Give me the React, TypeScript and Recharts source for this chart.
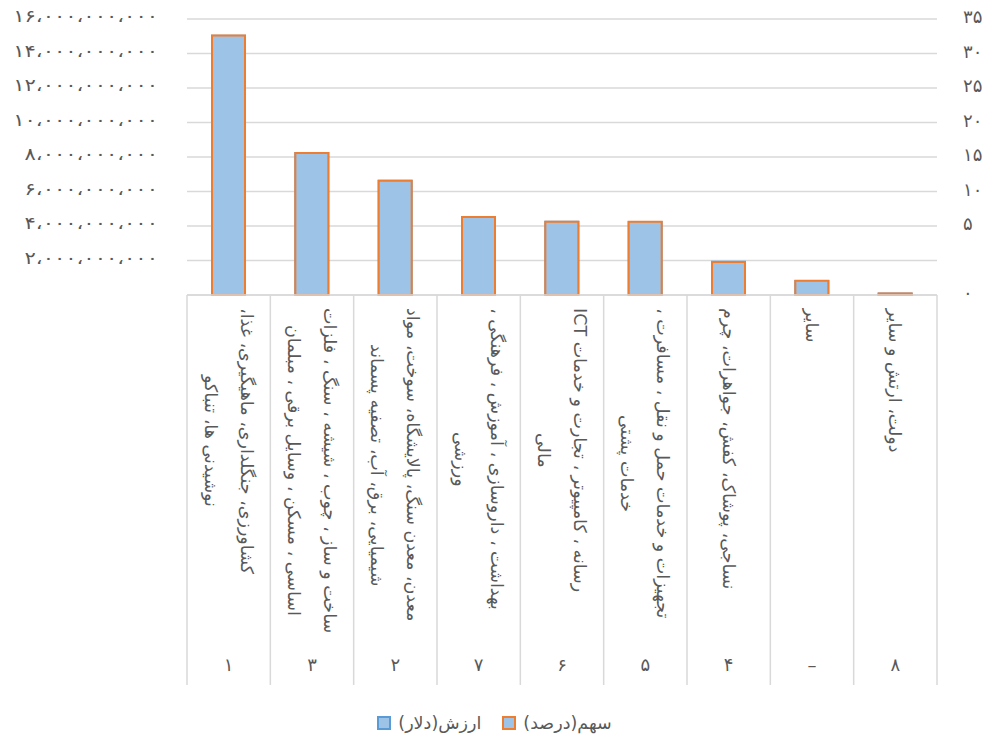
import React from "react";
import { BarChart, Bar, XAxis, YAxis, CartesianGrid, Legend } from "recharts";

// category descriptions (each entry = lines of the rotated label)
const categories: string[][] = [
  ["کشاورزی، جنگلداری، ماهیگیری، غذا،", "نوشیدنی ها، تنباکو"],
  ["ساخت و ساز ، چوب ، شیشه ، سنگ ، فلزات", "اساسی ، مسکن ، وسایل برقی ، مبلمان"],
  ["معدن، معدن سنگ، پالایشگاه، سوخت، مواد", "شیمیایی، برق، آب، تصفیه پسماند"],
  ["بهداشت ، داروسازی ، آموزش ، فرهنگی ،", "ورزشی"],
  ["رسانه ، کامپیوتر ، تجارت و خدمات ICT", "مالی"],
  ["تجهیزات و خدمات حمل و نقل ، مسافرت ،", "خدمات پشتی"],
  ["نساجی، پوشاک، کفش، جواهرات، چرم"],
  ["سایر"],
  ["دولت، ارتش و سایر"],
];
const codes = ["۱", "۳", "۲", "۷", "۶", "۵", "۴", "–", "۸"];
const values = [15.03e9, 8.23e9, 6.63e9, 4.52e9, 4.25e9, 4.23e9, 1.93e9, 0.81e9, 0.09e9];
const shares = [32.9, 18.0, 14.5, 9.9, 9.3, 9.3, 4.2, 1.8, 0.2];

const valueTicks = [0, 2e9, 4e9, 6e9, 8e9, 10e9, 12e9, 14e9, 16e9];
// right-hand labels as printed in the source chart (they sit on the value gridlines)
const shareLabelTicks = [0, 5, 10, 15, 20, 25, 30, 35, 40];
const shareTickLabels = ["۰", "", "۵", "۱۰", "۱۵", "۲۰", "۲۵", "۳۰", "۳۵"];

const data = categories.map((lines, i) => ({
  label: lines.join("\n"),
  code: codes[i],
  value: values[i],
  share: shares[i],
}));

const FONT = "'DejaVu Sans', sans-serif";
const TEXT = "#595959";
const GRID = "#d9d9d9";
const FILL = "#9dc3e6";
const BLUE = "#5b9bd5";
const ORANGE = "#ed7d31";

const WIDTH = 989;
const HEIGHT = 737;
const PLOT_LEFT = 187;
const PLOT_RIGHT = 937;

const toPersian = (s: string) => s.replace(/[0-9]/g, (d) => "۰۱۲۳۴۵۶۷۸۹"[Number(d)]);

const formatValue = (v: number) => {
  if (v === 0) return "";
  const grouped = Math.round(v).toString().replace(/\B(?=(\d{3})+(?!\d))/g, "،");
  return toPersian(grouped);
};

// value tick, stretched sideways a little like the wide digits of the source
function ValueTick(props: any) {
  const { x, y, payload } = props;
  return (
    <g transform={`translate(${x},${y}) scale(1.24,1)`}>
      <text x={0} y={0} dy="0.2em" textAnchor="end" fontSize={17} fontFamily={FONT} fill={TEXT}>
        {formatValue(payload.value)}
      </text>
    </g>
  );
}

function CategoryTick(props: any) {
  const { x, y, payload, index } = props;
  const half = payload?.offset || (PLOT_RIGHT - PLOT_LEFT) / categories.length / 2;
  const lines: string[] = String(payload.value).split("\n");
  const last = index === categories.length - 1;
  return (
    <g>
      <line x1={x - half} x2={x - half} y1={y} y2={y + 390} stroke={GRID} strokeWidth={1.5} />
      {last && (
        <line x1={x + half} x2={x + half} y1={y} y2={y + 390} stroke={GRID} strokeWidth={1.5} />
      )}
      <foreignObject x={x - 50} y={y + 13} width={100} height={340}>
        <div
          style={{
            display: "flex",
            justifyContent: "center",
            alignItems: "flex-start",
            width: 100,
            height: 340,
          }}
        >
          <div
            style={{
              writingMode: "vertical-rl",
              direction: "rtl",
              textAlign: "center",
              whiteSpace: "nowrap",
              lineHeight: "36px",
              fontSize: 17.5,
              fontFamily: FONT,
              color: TEXT,
            }}
          >
            {lines.map((l, i) => (
              <React.Fragment key={i}>
                {i > 0 && <br />}
                {l}
              </React.Fragment>
            ))}
          </div>
        </div>
      </foreignObject>
      <text x={x} y={y + 376} textAnchor="middle" fontSize={18} fontFamily={FONT} fill={TEXT}>
        {codes[index]}
      </text>
    </g>
  );
}

function LegendContent(props: any) {
  const items = (props.payload || []).map((p: any) => ({
    name: p.value,
    stroke: p.payload?.stroke || p.color,
  }));
  return (
    <div
      style={{
        display: "flex",
        justifyContent: "center",
        alignItems: "center",
        gap: 21,
        height: 52,
        paddingTop: 24,
        boxSizing: "border-box",
        fontFamily: FONT,
        fontSize: 17.5,
        color: TEXT,
      }}
    >
      {items.map((it: any) => (
        <div key={it.name} style={{ display: "flex", alignItems: "center", gap: 7 }}>
          <span
            style={{
              display: "inline-block",
              width: 10,
              height: 10,
              background: FILL,
              border: `2px solid ${it.stroke}`,
            }}
          />
          <span dir="rtl" style={{ unicodeBidi: "isolate" }}>
            {it.name}
          </span>
        </div>
      ))}
    </div>
  );
}

export default function App() {
  return (
    <div style={{ position: "absolute", left: 0, top: 0, width: WIDTH, height: HEIGHT, background: "#fff" }}>
      <BarChart
        width={WIDTH}
        height={HEIGHT}
        data={data}
        margin={{ top: 19, right: 0, bottom: 0, left: 0 }}
        barSize={33}
      >
        <CartesianGrid
          vertical={false}
          stroke={GRID}
          strokeWidth={1.5}
          xAxisId="main"
          yAxisId="value"
        />
        <XAxis
          xAxisId="main"
          dataKey="label"
          height={390}
          interval={0}
          tickSize={0}
          tickMargin={0}
          tickLine={false}
          axisLine={{ stroke: GRID, strokeWidth: 1.5 }}
          tick={<CategoryTick />}
        />
        <XAxis xAxisId="overlay" dataKey="label" hide />
        <YAxis
          yAxisId="value"
          width={PLOT_LEFT}
          domain={[0, 16e9]}
          ticks={valueTicks}
          interval={0}
          tickLine={false}
          axisLine={false}
          tickSize={0}
          tickMargin={29}
          tick={<ValueTick />}
        />
        <YAxis
          yAxisId="shareLabels"
          orientation="right"
          width={WIDTH - PLOT_RIGHT}
          type="number"
          domain={[0, 40]}
          allowDataOverflow
          ticks={shareLabelTicks}
          interval={0}
          tickFormatter={(v: number, i: number) => shareTickLabels[i] ?? ""}
          tickLine={false}
          axisLine={false}
          tickSize={0}
          tickMargin={26}
          tick={{ fill: TEXT, fontSize: 18, fontFamily: FONT, dy: -2 }}
        />
        <YAxis yAxisId="share" orientation="right" domain={[0, 35]} width={0} hide />
        <Legend verticalAlign="bottom" content={<LegendContent />} />
        <Bar
          xAxisId="main"
          yAxisId="value"
          dataKey="value"
          name="ارزش(دلار)"
          fill={FILL}
          stroke={BLUE}
          strokeWidth={2}
          isAnimationActive={false}
        />
        <Bar
          xAxisId="overlay"
          yAxisId="share"
          dataKey="share"
          name="سهم(درصد)"
          fill={FILL}
          stroke={ORANGE}
          strokeWidth={2}
          isAnimationActive={false}
        />
      </BarChart>
    </div>
  );
}
